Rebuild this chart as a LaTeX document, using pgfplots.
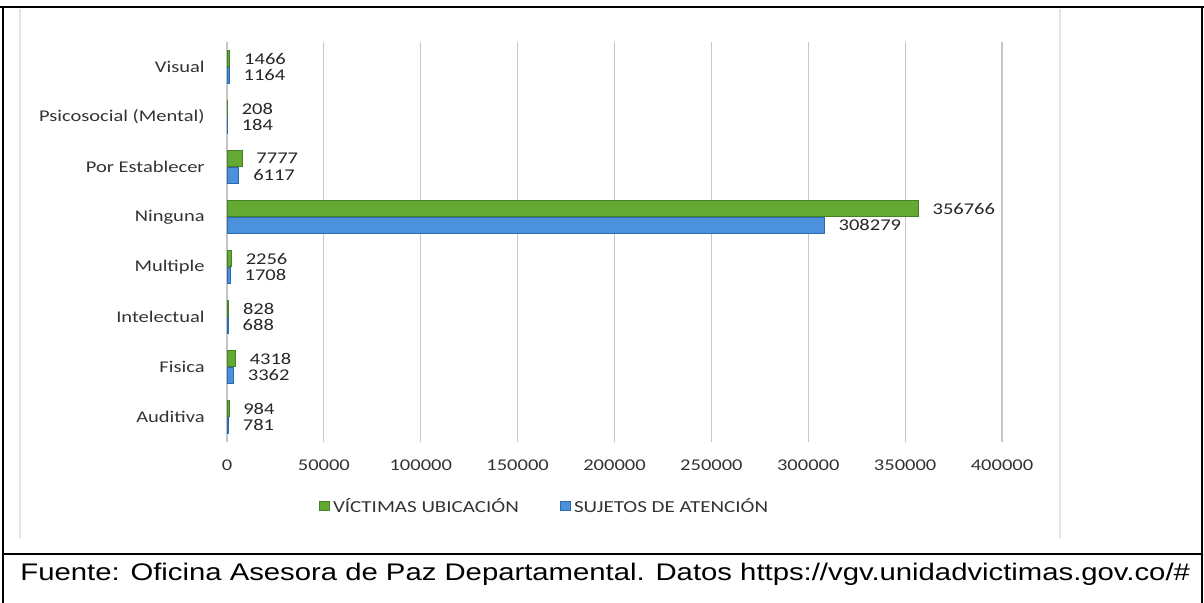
\documentclass[border=0pt]{standalone}
\usepackage{fontspec}
\setmainfont{Carlito}[FakeStretch=1.25]
\newfontfamily\arialf{Liberation Sans}[FakeStretch=1.22]
\usepackage{pgfplots}
\pgfplotsset{compat=1.18}
\definecolor{vgreen}{RGB}{100,170,50}
\definecolor{vgreenD}{RGB}{70,130,35}
\definecolor{vblue}{RGB}{75,145,220}
\definecolor{vblueD}{RGB}{45,105,175}
\newcommand{\lblfont}{\fontsize{8.2}{9.8}\selectfont}

\begin{document}
\begin{tikzpicture}
\useasboundingbox (0,0) rectangle (602pt,-301.5pt);
% frames
\draw[black, line width=1pt] (0,-3.5pt) -- (602pt,-3.5pt);
\draw[black, line width=1pt] (1.5pt,-3pt) -- (1.5pt,-301.5pt);
\draw[black, line width=1pt] (601pt,-3pt) -- (601pt,-301.5pt);
\draw[black, line width=1pt] (1pt,-277pt) -- (601.5pt,-277pt);
\draw[gray!22, line width=1pt] (10pt,-4.5pt) -- (10pt,-269pt);
\draw[gray!22, line width=1pt] (530pt,-4.5pt) -- (530pt,-269pt);
\node[anchor=base west, inner sep=0pt, font=\arialf\fontsize{12}{14}\selectfont] at (10pt,-290.3pt) {Fuente: Oficina Asesora de Paz Departamental. Datos https://vgv.unidadvictimas.gov.co/\#};

\begin{axis}[
  at={(113.5pt,-221pt)}, anchor=south west,
  scale only axis, width=387.5pt, height=200pt,
  xbar, bar width=8.2pt,
  xmin=0, xmax=400000, ymin=-0.5, ymax=7.5,
  xtick={0,50000,...,400000},
  ytick={0,...,7},
  yticklabels={Auditiva,Fisica,Intelectual,Multiple,Ninguna,Por Establecer,Psicosocial (Mental),Visual},
  scaled x ticks=false,
  /pgf/number format/.cd, fixed, 1000 sep={}, assume math mode=true, /pgfplots/.cd,
  major tick length=0pt,
  axis line style={draw=none},
  xmajorgrids,
  grid style={gray!45, line width=0.6pt},
  tick label style={font=\lblfont, text=black!80},
  xticklabel style={anchor=center, yshift=-11.5pt},
  yticklabel style={anchor=east, inner sep=0pt, xshift=-11pt},
  nodes near coords,
  nodes near coords style={anchor=west, inner sep=0pt, xshift=7pt, font=\lblfont, text=black!85},
  legend style={at={(0.111,-0.1625)}, anchor=west, draw=none, fill=none, legend columns=2, font=\fontsize{8.4}{10}\selectfont, text=black!80,
    nodes={inner xsep=1.8pt},
    /tikz/every even column/.append style={column sep=19pt}},
  legend image code/.code={\draw[#1] (0pt,-1.9pt) rectangle (4.6pt,2.7pt);},
]
\addplot[fill=vgreen, draw=vgreenD, bar shift=4.2pt] coordinates {
  (984,0) (4318,1) (828,2) (2256,3) (356766,4) (7777,5) (208,6) (1466,7)};
\addplot[fill=vblue, draw=vblueD, bar shift=-4.2pt] coordinates {
  (781,0) (3362,1) (688,2) (1708,3) (308279,4) (6117,5) (184,6) (1164,7)};
\legend{VÍCTIMAS UBICACIÓN, SUJETOS DE ATENCIÓN}
\end{axis}
\end{tikzpicture}
\end{document}
